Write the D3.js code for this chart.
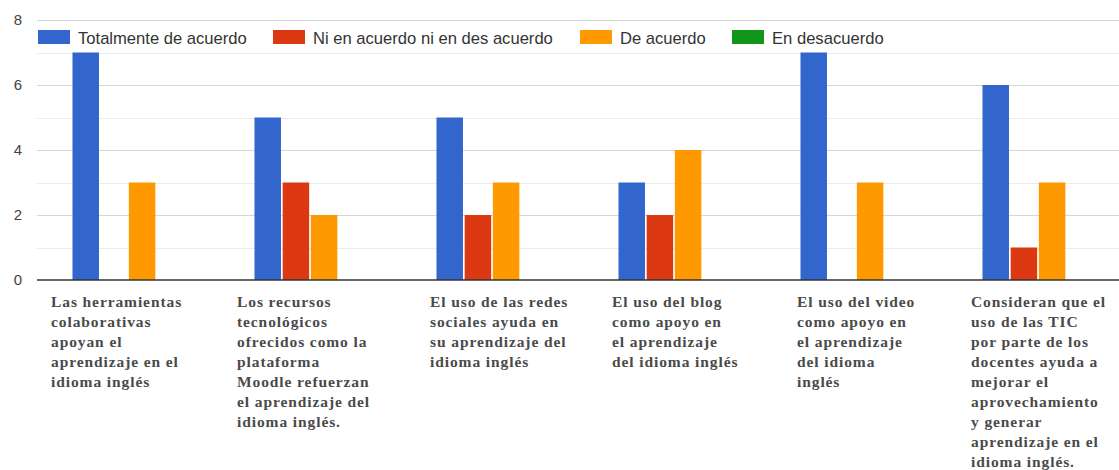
<!DOCTYPE html>
<html>
<head>
<meta charset="utf-8">
<script src="https://cdn.jsdelivr.net/npm/d3@7/dist/d3.min.js"></script>
<style>
  html, body { margin: 0; padding: 0; background: #fff; }
  svg { display: block; }
</style>
</head>
<body>
<svg id="chart" width="1119" height="470"></svg>
<script>
// ---- data ----
const categories = [
  ["Las herramientas", "colaborativas", "apoyan el", "aprendizaje en el", "idioma inglés"],
  ["Los recursos", "tecnológicos", "ofrecidos como la", "plataforma", "Moodle refuerzan", "el aprendizaje del", "idioma inglés."],
  ["El uso de las redes", "sociales ayuda en", "su aprendizaje del", "idioma inglés"],
  ["El uso del blog", "como apoyo en", "el aprendizaje", "del idioma inglés"],
  ["El uso del video", "como apoyo en", "el aprendizaje", "del idioma", "inglés"],
  ["Consideran que el", "uso de las TIC", "por parte de los", "docentes ayuda a", "mejorar el", "aprovechamiento", "y generar", "aprendizaje en el", "idioma inglés."]
];
const seriesNames = ["Totalmente de acuerdo", "Ni en acuerdo ni en des acuerdo", "De acuerdo", "En desacuerdo"];
const totalmente = [7, 5, 5, 3, 7, 6];
const niNi       = [0, 3, 2, 2, 0, 1];
const deAcuerdo  = [3, 2, 3, 4, 3, 3];
const desacuerdo = [0, 0, 0, 0, 0, 0];
const yTicks = [0, 2, 4, 6, 8];
const yMinorTicks = [1, 3, 5, 7];

// ---- layout ----
const colors = ["#3366cc", "#dc3912", "#ff9900", "#109618"];
const labelNudge = [14, 18, 29, 29, 32, 24];
const svg = d3.select("#chart");
const plotLeft = 37, plotRight = 1129, plotTop = 20, plotBottom = 280;

const seriesVals = [totalmente, niNi, deAcuerdo, desacuerdo];
const catIdx = d3.range(categories.length);

const x0 = d3.scaleBand().domain(catIdx).range([plotLeft, plotRight])
  .paddingInner(0.39).paddingOuter(0.195);
const x1 = d3.scaleBand().domain(d3.range(seriesNames.length))
  .range([0, x0.bandwidth()]).paddingInner(0.06).paddingOuter(0);
const y = d3.scaleLinear().domain([0, 8]).range([plotBottom, plotTop]);

// gridlines
svg.append("g").selectAll("line").data(yMinorTicks).join("line")
  .attr("x1", plotLeft).attr("x2", 1119)
  .attr("y1", d => Math.round(y(d)) + 0.5).attr("y2", d => Math.round(y(d)) + 0.5)
  .attr("stroke", "#ebebeb").attr("stroke-width", 1);
svg.append("g").selectAll("line").data(yTicks.filter(d => d !== 0)).join("line")
  .attr("x1", plotLeft).attr("x2", 1119)
  .attr("y1", d => Math.round(y(d)) + 0.5).attr("y2", d => Math.round(y(d)) + 0.5)
  .attr("stroke", "#d6d6d6").attr("stroke-width", 1);

// y axis labels
const yAxis = d3.axisLeft(y).tickValues(yTicks).tickSize(0).tickPadding(0).tickFormat(d3.format("d"));
const yg = svg.append("g").attr("transform", "translate(22,0)").call(yAxis);
yg.select(".domain").remove();
yg.selectAll("text")
  .attr("font-family", "Arial, 'Liberation Sans', sans-serif")
  .attr("font-size", 15).attr("fill", "#444");

// bars
const groups = svg.append("g").selectAll("g").data(catIdx).join("g")
  .attr("transform", i => `translate(${x0(i)},0)`);
groups.selectAll("rect")
  .data(i => seriesVals.map((s, k) => ({ k, v: s[i] })))
  .join("rect")
  .attr("x", d => x1(d.k))
  .attr("width", x1.bandwidth())
  .attr("y", d => y(d.v))
  .attr("height", d => y(0) - y(d.v))
  .attr("fill", d => colors[d.k]);

// baseline
svg.append("line")
  .attr("x1", plotLeft).attr("x2", 1119)
  .attr("y1", y(0)).attr("y2", y(0))
  .attr("stroke", "#333").attr("stroke-width", 1.3);

// category labels
const labels = svg.append("g").selectAll("text").data(catIdx).join("text")
  .attr("font-family", "'Liberation Serif', 'Times New Roman', serif")
  .attr("font-size", 15.5).attr("font-weight", "bold")
  .attr("letter-spacing", 0.9)
  .attr("fill", "#4a4a4a");
labels.each(function (i) {
  const t = d3.select(this);
  categories[i].forEach((line, j) => {
    t.append("tspan")
      .attr("x", x0(i) - x0.step() * 0.195 + labelNudge[i])
      .attr("y", 307 + j * 20)
      .text(line);
  });
});

// legend
const legendX = [38, 273, 580, 732];
const lg = svg.append("g").selectAll("g").data(seriesNames).join("g")
  .attr("transform", (d, i) => `translate(${legendX[i]},30)`);
lg.append("rect").attr("width", 32).attr("height", 14).attr("fill", (d, i) => colors[i]);
lg.append("text").attr("x", 40).attr("y", 13.5)
  .attr("font-family", "Arial, 'Liberation Sans', sans-serif")
  .attr("font-size", 16.6).attr("fill", "#333")
  .text(d => d);
</script>
</body>
</html>
